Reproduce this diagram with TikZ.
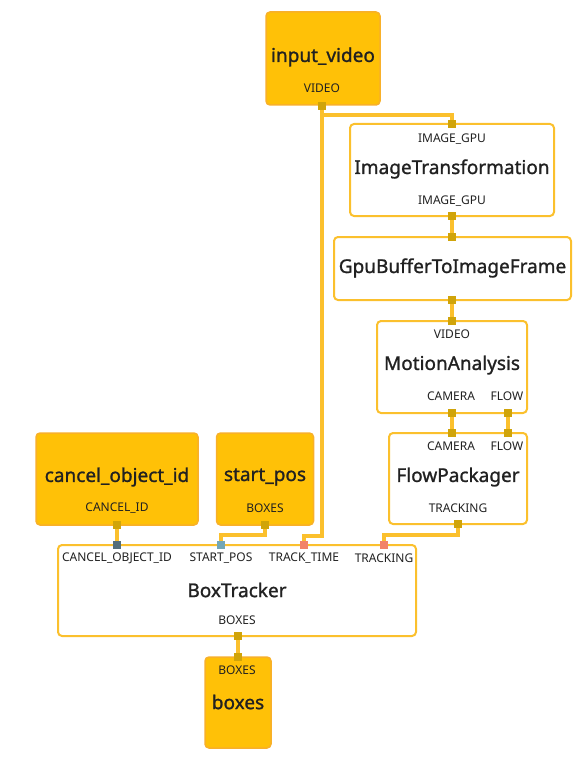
\documentclass[tikz,border=0pt]{standalone}
\usepackage{fontspec}
\setmainfont{Noto Sans}
\newfontfamily\ttlfont{Noto Sans}[FakeBold=1.2]
\usetikzlibrary{backgrounds}
\definecolor{amber}{HTML}{FFC107}
\definecolor{amberborder}{HTML}{F8B02A}
\definecolor{nodeborder}{HTML}{FBC02D}
\definecolor{edgecol}{HTML}{FBC02D}
\definecolor{portcol}{HTML}{D0A40A}
\definecolor{slate}{HTML}{546E7A}
\definecolor{tealport}{HTML}{74A7B5}
\definecolor{salmon}{HTML}{F2836A}
\definecolor{txt}{HTML}{212121}
\tikzset{
  opbox/.style={draw=nodeborder, line width=2pt, fill=white, rounded corners=4pt, inner sep=0pt},
  iobox/.style={draw=amberborder, line width=1.5pt, fill=amber, rounded corners=4pt, inner sep=0pt},
  ttl/.style={font=\ttlfont\fontsize{19}{21}\selectfont, text=txt, inner sep=0pt},
  plab/.style={font=\fontsize{12}{13}\selectfont, text=txt, inner sep=0pt},
  port/.style={fill=portcol, minimum size=8pt, inner sep=0pt},
  edge/.style={draw=edgecol, line width=4pt},
}
\begin{document}
\begin{tikzpicture}[x=1pt,y=-1pt]
\useasboundingbox (0,0) rectangle (582,767);
% boxes
\node[iobox, minimum width=114pt, minimum height=93pt] (iv) at (323,58.5) {};
\node[opbox, minimum width=204pt, minimum height=92pt] (it) at (452,170) {};
\node[opbox, minimum width=237pt, minimum height=63pt] (gb) at (452.5,268.5) {};
\node[opbox, minimum width=150pt, minimum height=92pt] (ma) at (452,367) {};
\node[opbox, minimum width=138pt, minimum height=91pt] (fp) at (458,478.5) {};
\node[iobox, minimum width=162pt, minimum height=92pt] (co) at (117,479) {};
\node[iobox, minimum width=97pt, minimum height=92pt] (sp) at (265,479) {};
\node[opbox, minimum width=358pt, minimum height=91pt] (bt) at (237,590.5) {};
\node[iobox, minimum width=66pt, minimum height=91pt] (bx) at (238,702.5) {};
% titles
\node[ttl] (iv-t) at (323,57) {input\_video};
\node[ttl] (it-t) at (452,169) {ImageTransformation};
\node[ttl] (gb-t) at (452.5,268) {GpuBufferToImageFrame};
\node[ttl] (ma-t) at (452,365) {MotionAnalysis};
\node[ttl] (fp-t) at (458,477) {FlowPackager};
\node[ttl] (co-t) at (117,477) {cancel\_object\_id};
\node[ttl] (sp-t) at (265,477) {start\_pos};
\node[ttl] (bt-t) at (237,590) {BoxTracker};
\node[ttl] (bx-t) at (238,702) {boxes};
% port labels
\node[plab] (l1) at (322,88) {VIDEO};
\node[plab] (l2) at (452,139) {IMAGE\_GPU};
\node[plab] (l3) at (452,201) {IMAGE\_GPU};
\node[plab] (l4) at (452,334) {VIDEO};
\node[plab] (l5) at (451,396) {CAMERA};
\node[plab] (l6) at (507,396) {FLOW};
\node[plab] (l7) at (451,446) {CAMERA};
\node[plab] (l8) at (507,446) {FLOW};
\node[plab] (l9) at (458,508) {TRACKING};
\node[plab] (l10) at (117,508) {CANCEL\_ID};
\node[plab] (l11) at (265,508) {BOXES};
\node[plab] (l12) at (117,558) {CANCEL\_OBJECT\_ID};
\node[plab] (l13) at (221,558) {START\_POS};
\node[plab] (l14) at (304,558) {TRACK\_TIME};
\node[plab] (l15) at (384,558) {TRACKING};
\node[plab] (l16) at (237,620) {BOXES};
\node[plab] (l17) at (237,670) {BOXES};
% ports
\node[port] (p-iv) at (322,106) {};
\node[port] (p-it-in) at (452,124) {};
\node[port] (p-it-out) at (452,216) {};
\node[port] (p-gb-in) at (452,237) {};
\node[port] (p-gb-out) at (452,300) {};
\node[port] (p-ma-in) at (452,321) {};
\node[port] (p-ma-cam) at (452,413) {};
\node[port] (p-ma-flow) at (508,413) {};
\node[port] (p-fp-cam) at (452,433) {};
\node[port] (p-fp-flow) at (508,433) {};
\node[port] (p-fp-out) at (458,524) {};
\node[port] (p-co) at (117,525) {};
\node[port] (p-sp) at (265,525) {};
\node[port, fill=slate] (p-bt-co) at (117,545) {};
\node[port, fill=tealport] (p-bt-sp) at (221,545) {};
\node[port, fill=salmon] (p-bt-tt) at (304,545) {};
\node[port, fill=salmon] (p-bt-tr) at (384,545) {};
\node[port] (p-bt-out) at (238,636) {};
\node[port] (p-bx-in) at (238,657) {};
% edges
\begin{scope}[on background layer]
\draw[edge] (p-iv.center) -- ++(0,9) -| (p-it-in.center);
\draw[edge] (p-iv.center) -- ++(0,430) -| (p-bt-tt.center);
\draw[edge] (p-it-out.center) -- (p-gb-in.center);
\draw[edge] (p-gb-out.center) -- (p-ma-in.center);
\draw[edge] (p-ma-cam.center) -- (p-fp-cam.center);
\draw[edge] (p-ma-flow.center) -- (p-fp-flow.center);
\draw[edge] (p-fp-out.center) -- ++(0,11) -| (p-bt-tr.center);
\draw[edge] (p-sp.center) -- ++(0,10) -| (p-bt-sp.center);
\draw[edge] (p-co.center) -- (p-bt-co.center);
\draw[edge] (p-bt-out.center) -- (p-bx-in.center);
\end{scope}
\end{tikzpicture}
\end{document}
